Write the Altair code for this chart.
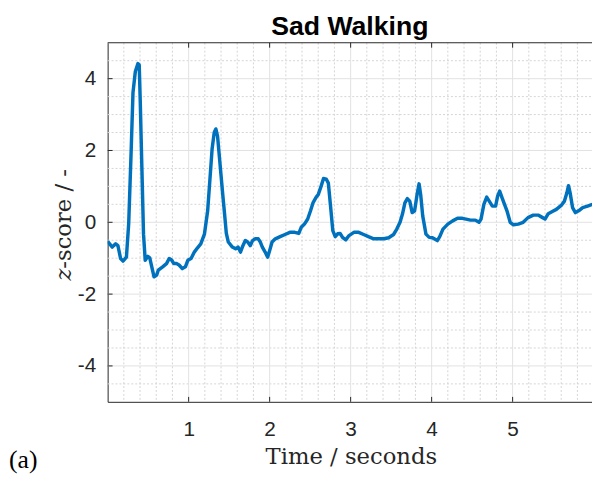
import altair as alt
import pandas as pd

# ---- signal ----
time_s = [0, 0.057, 0.099, 0.127, 0.16, 0.19, 0.232, 0.26, 0.29, 0.313, 0.342, 0.374, 0.39,
          0.403, 0.423, 0.443, 0.464, 0.496, 0.52, 0.545, 0.573, 0.605, 0.626, 0.679, 0.727,
          0.76, 0.79, 0.817, 0.85, 0.882, 0.922, 0.96, 0.99, 1.03, 1.07, 1.11, 1.15, 1.195,
          1.235, 1.264, 1.29, 1.316, 1.336, 1.357, 1.385, 1.418, 1.445, 1.465, 1.49, 1.54,
          1.58, 1.61, 1.64, 1.67, 1.70, 1.73, 1.76, 1.79, 1.82, 1.86, 1.885, 1.91, 1.945,
          1.975, 1.995, 2.03, 2.07, 2.13, 2.19, 2.25, 2.31, 2.36, 2.39, 2.43, 2.47, 2.505,
          2.535, 2.575, 2.60, 2.635, 2.665, 2.70, 2.725, 2.75, 2.78, 2.81, 2.84, 2.87, 2.90,
          2.94, 2.98, 3.04, 3.10, 3.16, 3.22, 3.285, 3.345, 3.41, 3.47, 3.53, 3.57, 3.61,
          3.64, 3.67, 3.70, 3.73, 3.76, 3.79, 3.82, 3.845, 3.865, 3.89, 3.93, 3.97, 4.01,
          4.07, 4.10, 4.14, 4.2, 4.26, 4.32, 4.38, 4.44, 4.48, 4.54, 4.585, 4.61, 4.645,
          4.68, 4.705, 4.75, 4.79, 4.815, 4.84, 4.87, 4.90, 4.93, 4.97, 5.01, 5.07, 5.13,
          5.19, 5.255, 5.315, 5.37, 5.40, 5.44, 5.49, 5.54, 5.60, 5.64, 5.67, 5.69, 5.71,
          5.74, 5.775, 5.815, 5.865, 5.925, 5.985]
zscore = [-0.53, -0.69, -0.6, -0.65, -1.01, -1.08, -0.97, -0.04, 1.96, 3.61, 4.2, 4.42, 4.38,
          3.34, 1.5, -0.33, -1.06, -0.95, -0.99, -1.24, -1.52, -1.47, -1.33, -1.24, -1.15,
          -1.01, -1.05, -1.15, -1.15, -1.19, -1.29, -1.24, -1.06, -1.01, -0.83, -0.71, -0.6,
          -0.33, 0.32, 1.23, 2.05, 2.5, 2.6, 2.4, 1.69, 0.85, 0.2, -0.3, -0.55, -0.69,
          -0.74, -0.69, -0.83, -0.65, -0.51, -0.55, -0.65, -0.51, -0.46, -0.46, -0.55, -0.69,
          -0.83, -0.97, -0.83, -0.55, -0.46, -0.4, -0.34, -0.28, -0.28, -0.31, -0.14, -0.05,
          0.09, 0.32, 0.54, 0.7, 0.77, 1.0, 1.22, 1.2, 1.09, 0.5, -0.23, -0.4, -0.32, -0.31,
          -0.42, -0.49, -0.37, -0.28, -0.28, -0.34, -0.4, -0.46, -0.46, -0.46, -0.43, -0.34,
          -0.19, 0.0, 0.23, 0.54, 0.66, 0.59, 0.27, 0.32, 0.77, 1.07, 0.77, 0.18, -0.33,
          -0.42, -0.43, -0.51, -0.4, -0.19, -0.05, 0.04, 0.11, 0.11, 0.08, 0.06, 0.06, 0.0,
          0.09, 0.5, 0.7, 0.61, 0.45, 0.45, 0.73, 0.87, 0.68, 0.5, 0.32, 0.0, -0.07, -0.05,
          0.0, 0.13, 0.2, 0.2, 0.13, 0.09, 0.24, 0.3, 0.36, 0.47, 0.59, 0.82, 1.02, 0.82,
          0.41, 0.27, 0.32, 0.41, 0.45, 0.5]

# ---- axes / grid values ----
x_ticks = [1, 2, 3, 4, 5]
y_ticks = [-4, -2, 0, 2, 4]
x_major_grid = [1, 2, 3, 4, 5]
y_major_grid = [-4, -2, 0, 2, 4]
x_minor_grid = [0.2, 0.4, 0.6, 0.8, 1.2, 1.4, 1.6, 1.8, 2.2, 2.4, 2.6, 2.8, 3.2, 3.4, 3.6,
                3.8, 4.2, 4.4, 4.6, 4.8, 5.2, 5.4, 5.6, 5.8]
y_minor_grid = [-4.5, -3.5, -3, -2.5, -1.5, -1, -0.5, 0.5, 1, 1.5, 2.5, 3, 3.5, 4.5]

W, H = 491, 364
AX = "#262626"
xs = alt.Scale(domain=[0, 5.98], nice=False, zero=False)
ys = alt.Scale(domain=[-5, 5], nice=False, zero=False)

X_AXIS = alt.Axis(values=x_ticks, ticks=False, grid=False, domainColor=AX, domainWidth=1,
                  labelFont="Liberation Sans", labelFontSize=21, labelColor=AX,
                  labelPadding=17, labelExpr="'' + datum.value", title=None)
Y_AXIS = alt.Axis(values=y_ticks, ticks=False, grid=False, domainColor=AX, domainWidth=1,
                  labelFont="Liberation Sans", labelFontSize=21, labelColor=AX,
                  labelPadding=12, labelExpr="'' + datum.value", title=None)


def xenc(field="v"):
    return alt.X(f"{field}:Q", scale=xs, axis=X_AXIS)


def yenc(field="v"):
    return alt.Y(f"{field}:Q", scale=ys, axis=Y_AXIS)


def vrules(vals, color, dash=None, y0=0, y1=H):
    kw = {"strokeDash": dash} if dash else {}
    return alt.Chart(pd.DataFrame({"v": vals})).mark_rule(
        color=color, strokeWidth=1, **kw).encode(x=xenc(), y=alt.value(y0), y2=alt.value(y1))


def hrules(vals, color, dash=None, x0=0, x1=W):
    kw = {"strokeDash": dash} if dash else {}
    return alt.Chart(pd.DataFrame({"v": vals})).mark_rule(
        color=color, strokeWidth=1, **kw).encode(y=yenc(), x=alt.value(x0), x2=alt.value(x1))


def label(text, x, y, **kw):
    return alt.Chart(pd.DataFrame({"s": [text]})).mark_text(**kw).encode(
        text="s:N", x=alt.value(x), y=alt.value(y))


minor_col = "#d4d4d4"
major_col = "#e2e2e2"
tick_len = 5

line = alt.Chart(pd.DataFrame({"t": time_s, "z": zscore})).mark_line(
    color="#0072BD", strokeWidth=3.5, strokeJoin="round", clip=True
).encode(x=xenc("t"), y=yenc("z"), order="t:Q")

layers = [
    vrules(x_minor_grid, minor_col, [2, 2]),
    hrules(y_minor_grid, minor_col, [2, 2]),
    vrules(x_major_grid, major_col),
    hrules(y_major_grid, major_col),
    line,
    # inward ticks
    vrules(x_ticks, AX, y0=H, y1=H - tick_len),
    vrules(x_ticks, AX, y0=0, y1=tick_len),
    hrules(y_ticks, AX, x0=0, x1=tick_len),
    # top border
    alt.Chart(pd.DataFrame({"v": [0]})).mark_rule(color=AX, strokeWidth=1).encode(
        x=alt.value(0), x2=alt.value(W), y=alt.value(0)),
    # texts
    label("Sad Walking", W / 2, -8, font="Liberation Sans", fontSize=27, fontWeight="bold",
          color="#000000", align="center", baseline="alphabetic"),
    label("Time / seconds", 247, H + 63, font="DejaVu Serif", fontSize=23, color=AX,
          align="center", baseline="alphabetic"),
    label("z", -37, 241, font="DejaVu Serif", fontSize=23, fontStyle="italic", color=AX,
          angle=270, align="left", baseline="alphabetic"),
    label("-score / -", -37, 229, font="DejaVu Serif", fontSize=23, color=AX,
          angle=270, align="left", baseline="alphabetic"),
    label("(a)", -100, 431, font="Liberation Serif", fontSize=26, color="#000000",
          align="left", baseline="alphabetic"),
]

chart = alt.layer(*layers).properties(
    width=W, height=H,
    padding={"left": 101, "top": 32, "right": 0, "bottom": 75},
    autosize=alt.AutoSizeParams(type="none"),
).configure_view(stroke=None)

chart.save("out.html", embed_options={"renderer": "svg", "actions": False})
